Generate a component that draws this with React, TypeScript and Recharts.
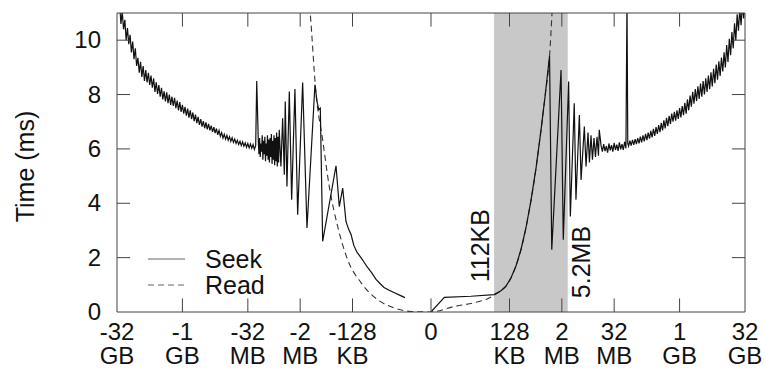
import {
    LineChart,
    Line,
    XAxis,
    YAxis,
    Legend,
    ReferenceArea,
    ReferenceLine,
    ReferenceDot,
} from "recharts";

// x is in axis units: signed log2 distance (0 = no seek), ±24 = ±32GB
const xTicks = [-24, -19, -14, -10, -6, 0, 6, 10, 14, 19, 24];
const xTickNum = ["-32", "-1", "-32", "-2", "-128", "0", "128", "2", "32", "1", "32"];
const xTickUnit = ["GB", "GB", "MB", "MB", "KB", "", "KB", "MB", "MB", "GB", "GB"];
const yTicks = [0, 2, 4, 6, 8, 10];
const seriesNames = ["Seek", "Read"];

// shaded region 112KB .. 5.2MB
const bandFrom = 4.82;
const bandTo = 10.45;

// seek time, dense noisy part from -32GB, step 0.1
const seekLeftStart = -24;
const seekLeftNoise = [
    11.7, 11.0, 11.35, 10.6, 11.05, 10.4, 10.75, 10.0, 10.45, 9.85, 10.2, 9.55,
    9.95, 9.3, 9.7, 9.05, 9.35, 8.8, 9.2, 8.65, 9.05, 8.5, 8.9, 8.45, 8.8, 8.35,
    8.7, 8.25, 8.6, 8.1, 8.45, 8.02, 8.35, 7.92, 8.25, 7.82, 8.12, 7.75, 8.08,
    7.68, 8.0, 7.62, 7.92, 7.58, 7.88, 7.5, 7.78, 7.42, 7.72, 7.36, 7.62, 7.3,
    7.55, 7.22, 7.48, 7.15, 7.42, 7.1, 7.34, 7.02, 7.26, 6.95, 7.18, 6.88, 7.1,
    6.82, 7.02, 6.76, 6.98, 6.72, 6.92, 6.68, 6.86, 6.63, 6.8, 6.58, 6.75, 6.52,
    6.68, 6.46, 6.6, 6.4, 6.54, 6.36, 6.5, 6.32, 6.45, 6.28, 6.41, 6.24, 6.36,
    6.2, 6.32, 6.16, 6.28, 6.12, 6.26, 6.1, 6.22, 6.06, 6.2, 6.04, 6.18, 6.02,
    6.16, 5.98, 6.12,
];
const seekLeftSpike: [number, number][] = [[-13.32, 8.5]];
// step 0.05 from -13.2
const seekMidStart = -13.2;
const seekMidNoise = [
    6.3, 5.8, 6.4, 5.7, 6.2, 5.9, 6.5, 5.6, 6.3, 5.8, 6.45, 5.55, 6.2, 5.75, 6.5,
    5.6, 6.35, 5.5, 6.4, 5.7, 6.55, 5.45, 6.3, 5.6, 6.5, 5.4, 6.4, 5.55, 6.6, 5.35,
    6.45, 5.5, 6.7,
];
const seekSwing: [number, number][] = [
    [-11.47, 5.35], [-11.34, 7.13], [-11.21, 5.05], [-11.14, 7.74], [-11.01, 4.62],
    [-10.83, 8.11], [-10.65, 4.13], [-10.4, 8.2], [-10.19, 3.58], [-9.81, 8.44],
    [-9.48, 3.09], [-8.87, 8.36], [-8.71, 7.74], [-8.58, 7.44], [-8.46, 7.5],
    [-8.28, 2.6], [-7.26, 5.38], [-7.01, 3.88], [-6.75, 4.56], [-6.5, 3.33],
    [-6.3, 3.05], [-6.11, 2.85], [-5.9, 2.45], [-5.66, 2.2], [-5.35, 2.0],
    [-5.1, 1.82], [-4.89, 1.67], [-4.5, 1.42], [-4.2, 1.2], [-3.9, 1.05],
    [-3.59, 0.9], [-3.2, 0.8], [-2.83, 0.72], [-2.4, 0.62], [-1.99, 0.53],
];
const seekRight: [number, number][] = [
    [0, 0], [1.02, 0.54], [3.06, 0.58], [4.82, 0.64], [5.35, 0.78], [5.73, 0.95],
    [6.11, 1.25], [6.5, 1.7], [6.88, 2.3], [7.26, 3.1], [7.64, 4.1], [8.03, 5.3],
    [8.41, 6.7], [8.71, 7.9], [9.06, 9.42], [9.23, 2.29], [9.94, 8.9], [10.11, 2.66],
    [10.52, 8.48], [10.65, 3.51], [10.95, 7.68], [11.08, 4.13], [11.34, 7.25],
    [11.47, 4.86], [11.72, 6.82], [11.85, 5.35], [12.0, 6.6], [12.11, 5.5],
    [12.23, 6.5], [12.34, 5.6], [12.46, 6.4], [12.57, 5.7], [12.69, 6.45],
    [12.8, 5.75], [12.86, 6.7],
];
// step 0.1 from 13.0
const seekRightStartA = 13.0;
const seekRightNoiseA = [
    6.12, 5.9, 6.18, 5.92, 6.1, 5.86, 6.2, 5.95, 6.14, 5.9, 6.22, 5.96, 6.16, 5.93,
    6.24, 5.98, 6.18, 5.96, 6.26, 6.02,
];
const seekRightSpike: [number, number][] = [[14.98, 11.5], [15.04, 6.2]];
const seekRightStartB = 15.1;
const seekRightNoiseB = [
    6.1, 6.3, 6.12, 6.33, 6.15, 6.36, 6.18, 6.4, 6.2, 6.45, 6.24, 6.5, 6.28, 6.55,
    6.32, 6.6, 6.38, 6.66, 6.42, 6.74, 6.48, 6.8, 6.55, 6.88, 6.62, 6.96, 6.68,
    7.05, 6.75, 7.14, 6.84, 7.22, 6.92, 7.3, 7.0, 7.36, 7.04, 7.42, 7.1, 7.5, 7.16,
    7.58, 7.24, 7.7, 7.3, 7.82, 7.42, 7.96, 7.55, 8.1, 7.66, 8.2, 7.76, 8.3, 7.84,
    8.4, 7.92, 8.5, 8.0, 8.6, 8.1, 8.7, 8.2, 8.82, 8.3, 8.95, 8.42, 9.1, 8.55, 9.22,
    8.68, 9.36, 8.85, 9.55, 9.0, 9.82, 9.2, 10.05, 9.45, 10.3, 9.7, 10.62, 10.0,
    10.95, 10.35, 11.15, 10.55, 11.3, 10.8, 11.6,
];

const readPts: [number, number][] = [
    [-9.4, 12], [-9.23, 11.0], [-8.79, 8.05], [-8.28, 6.33], [-7.77, 4.6],
    [-7.13, 3.14], [-6.37, 1.92], [-5.35, 1.08], [-4.07, 0.45], [-2.81, 0.15],
    [-1.53, 0.02], [0, 0], [1.76, 0.2], [3.29, 0.34], [4.33, 0.49], [4.82, 0.62],
    [5.35, 0.78], [5.73, 0.95], [6.11, 1.25], [6.5, 1.7], [6.88, 2.3], [7.26, 3.1],
    [7.64, 4.1], [8.03, 5.3], [8.41, 6.7], [8.71, 7.9], [9.06, 9.42], [9.25, 11.0],
    [9.4, 12.5],
];

const FONT = "'Liberation Sans', Arial, Helvetica, sans-serif";
const INK = "#111";
const FRAME = "#444";

const stepped = (start: number, step: number, ys: number[]) =>
    ys.map((y, i) => ({ x: +(start + i * step).toFixed(3), y }));
const pairs = (p: [number, number][]) => p.map(([x, y]) => ({ x, y }));

const seekData: { x: number; y: number | null }[] = [
    ...stepped(seekLeftStart, 0.1, seekLeftNoise),
    ...pairs(seekLeftSpike),
    ...stepped(seekMidStart, 0.05, seekMidNoise),
    ...pairs(seekSwing),
    { x: -1, y: null },
    ...pairs(seekRight),
    ...stepped(seekRightStartA, 0.1, seekRightNoiseA),
    ...pairs(seekRightSpike),
    ...stepped(seekRightStartB, 0.1, seekRightNoiseB),
];
const readData = pairs(readPts);

function XTick({ x, y, payload }: any) {
    const i = xTicks.indexOf(payload.value);
    return (
        <text x={x} y={y + 28} textAnchor="middle" fontFamily={FONT} fontSize={24} fill={INK}>
            <tspan x={x}>{xTickNum[i]}</tspan>
            {xTickUnit[i] && <tspan x={x} dy={24}>{xTickUnit[i]}</tspan>}
        </text>
    );
}

function YTick({ x, y, payload }: any) {
    return (
        <text x={x} y={y + 8} textAnchor="end" fontFamily={FONT} fontSize={24} fill={INK}>
            {payload.value}
        </text>
    );
}

function YLabel({ viewBox }: any) {
    const cx = viewBox.x + 25;
    const cy = viewBox.y + viewBox.height / 2 + 4;
    return (
        <text x={cx} y={cy} transform={`rotate(-90 ${cx} ${cy})`} textAnchor="middle"
            dominantBaseline="central" fontFamily={FONT} fontSize={25} fill={INK}>
            Time (ms)
        </text>
    );
}

function RotLabel({ viewBox, text }: any) {
    const cx = viewBox.x + (viewBox.width || 0) / 2;
    const cy = viewBox.y + (viewBox.height || 0) / 2;
    return (
        <text x={cx} y={cy} transform={`rotate(-90 ${cx} ${cy})`} textAnchor="middle"
            dominantBaseline="central" fontFamily={FONT} fontSize={25} fill={INK}>
            {text}
        </text>
    );
}

function LegendBox() {
    return (
        <div style={{ fontFamily: FONT, fontSize: 25, lineHeight: "26px", color: INK }}>
            {seriesNames.map((n, i) => (
                <div key={n} style={{ display: "flex", alignItems: "center", height: 26 }}>
                    <svg width={57} height={26}>
                        <line x1={0} x2={37} y1={13} y2={13} stroke="#999" strokeWidth={1.5}
                            strokeDasharray={i ? "6 4" : undefined} />
                    </svg>
                    <span>{n}</span>
                </div>
            ))}
        </div>
    );
}

export default function App() {
    return (
        <div style={{ position: "absolute", left: 0, top: 0, background: "#fff" }}>
            <LineChart width={765} height={376} margin={{ top: 13, right: 20, left: 0, bottom: 0 }}>
                <ReferenceArea x1={bandFrom} x2={bandTo} y1={0} y2={11} fill="#c8c8c8"
                    fillOpacity={1} stroke="none" />
                <XAxis dataKey="x" type="number" domain={[-24, 24]} ticks={xTicks}
                    allowDataOverflow height={64} tickLine={false} tickSize={0} tickMargin={0}
                    tick={<XTick />} axisLine={{ stroke: FRAME }} />
                <YAxis type="number" domain={[0, 11]} ticks={yTicks} allowDataOverflow
                    width={117} tickLine={false} tickSize={0} tickMargin={16}
                    tick={<YTick />} axisLine={{ stroke: FRAME }} label={<YLabel />} />
                <Line data={readData} dataKey="y" type="monotone" stroke="#333"
                    strokeWidth={1.1} strokeDasharray="6 4" dot={false}
                    isAnimationActive={false} name={seriesNames[1]} />
                <Line data={seekData} dataKey="y" type="linear" stroke="#111"
                    strokeWidth={1.2} dot={false} connectNulls={false}
                    isAnimationActive={false} name={seriesNames[0]} />
                {xTicks.slice(1, -1).map((t) => (
                    <ReferenceLine key={"b" + t} segment={[{ x: t, y: 0 }, { x: t, y: 0.5 }]}
                        stroke={FRAME} />
                ))}
                {xTicks.slice(1, -1).map((t) => (
                    <ReferenceLine key={"t" + t} segment={[{ x: t, y: 11 }, { x: t, y: 10.5 }]}
                        stroke={FRAME} />
                ))}
                {yTicks.slice(1).map((t) => (
                    <ReferenceLine key={"l" + t} segment={[{ x: -24, y: t }, { x: -23, y: t }]}
                        stroke={FRAME} />
                ))}
                {yTicks.slice(1).map((t) => (
                    <ReferenceLine key={"r" + t} segment={[{ x: 24, y: t }, { x: 23, y: t }]}
                        stroke={FRAME} />
                ))}
                <ReferenceLine y={11} stroke={FRAME} />
                <ReferenceLine x={24} stroke={FRAME} />
                <ReferenceDot x={3.75} y={2.44} r={0} fill="none" stroke="none"
                    label={<RotLabel text="112KB" />} />
                <ReferenceDot x={11.47} y={1.84} r={0} fill="none" stroke="none"
                    label={<RotLabel text="5.2MB" />} />
                <Legend layout="vertical" align="center" verticalAlign="middle"
                    content={<LegendBox />}
                    wrapperStyle={{ position: "absolute", left: 148, top: 246, width: "auto" }} />
            </LineChart>
        </div>
    );
}
